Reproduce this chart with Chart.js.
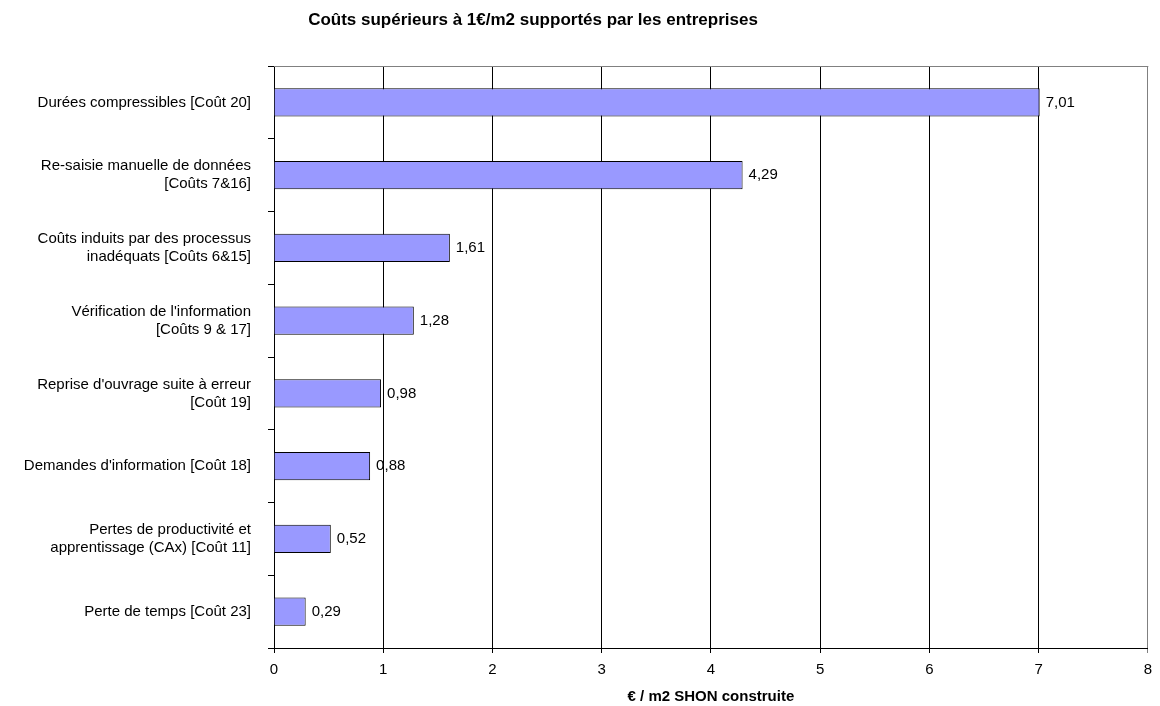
<!DOCTYPE html>
<html>
<head>
<meta charset="utf-8">
<script src="https://cdn.jsdelivr.net/npm/chart.js@4"></script>
<style>
  html, body { margin: 0; padding: 0; background: #fff; }
  #wrap { width: 1160px; height: 706px; }
</style>
</head>
<body>
<div id="wrap"><canvas id="chart" width="1160" height="706"></canvas></div>
<script>
const categories = [
  'Durées compressibles [Coût 20]',
  ['Re-saisie manuelle de données', '[Coûts 7&16]'],
  ['Coûts induits par des processus', 'inadéquats [Coûts 6&15]'],
  ['Vérification de l\'information', '[Coûts 9 & 17]'],
  ['Reprise d\'ouvrage suite à erreur', '[Coût 19]'],
  'Demandes d\'information [Coût 18]',
  ['Pertes de productivité et', 'apprentissage (CAx) [Coût 11]'],
  'Perte de temps [Coût 23]'
];
const costs = [7.01, 4.29, 1.61, 1.28, 0.98, 0.88, 0.52, 0.29];
const chartTitle = 'Coûts supérieurs à 1€/m2 supportés par les entreprises';
const axisTitle = '€ / m2 SHON construite';

const FONT = 'Arial, "Liberation Sans", sans-serif';

// titles, frame and value labels
const extras = {
  id: 'extras',
  afterDatasetsDraw(chart) {
    const ctx = chart.ctx;
    const area = chart.chartArea;
    ctx.save();
    ctx.strokeStyle = '#808080';
    ctx.lineWidth = 1;
    ctx.beginPath();
    ctx.moveTo(area.left, area.top + 0.5);
    ctx.lineTo(area.right + 0.5, area.top + 0.5);
    ctx.stroke();

    ctx.fillStyle = '#000';
    ctx.font = '15px ' + FONT;
    ctx.textBaseline = 'middle';
    ctx.textAlign = 'left';
    const meta = chart.getDatasetMeta(0);
    meta.data.forEach((bar, i) => {
      ctx.fillText(costs[i].toFixed(2).replace('.', ','), bar.x + 6, bar.y);
    });

    ctx.textAlign = 'center';
    ctx.font = 'bold 17px ' + FONT;
    ctx.fillText(chartTitle, 533, 20);
    ctx.font = 'bold 15px ' + FONT;
    ctx.fillText(axisTitle, (area.left + area.right) / 2, 697);
    ctx.restore();
  }
};

new Chart(document.getElementById('chart'), {
  type: 'bar',
  data: {
    labels: categories,
    datasets: [{
      data: costs,
      backgroundColor: '#9999FF',
      borderColor: '#000000',
      borderWidth: 1,
      barPercentage: 0.39,
      categoryPercentage: 1
    }]
  },
  options: {
    indexAxis: 'y',
    responsive: false,
    animation: false,
    layout: { padding: { top: 66, right: 10, bottom: 0, left: 0 } },
    plugins: { legend: { display: false }, tooltip: { enabled: false } },
    scales: {
      x: {
        min: 0,
        max: 8,
        ticks: { stepSize: 1, color: '#000', font: { size: 15, family: FONT }, padding: 8 },
        grid: {
          color: c => (c.tick && c.tick.value === 8) ? '#808080' : '#000000',
          tickLength: 5,
          lineWidth: 1
        },
        border: { color: '#000', width: 1 },
        afterFit: s => { s.height = 58; }
      },
      y: {
        ticks: { color: '#000', font: { size: 15, family: FONT, lineHeight: 1.2 }, padding: 17 },
        grid: { drawOnChartArea: false, color: '#000', tickLength: 6, offset: true },
        border: { color: '#000', width: 1 },
        afterFit: s => { s.width = 274; }
      }
    }
  },
  plugins: [extras]
});
</script>
</body>
</html>
